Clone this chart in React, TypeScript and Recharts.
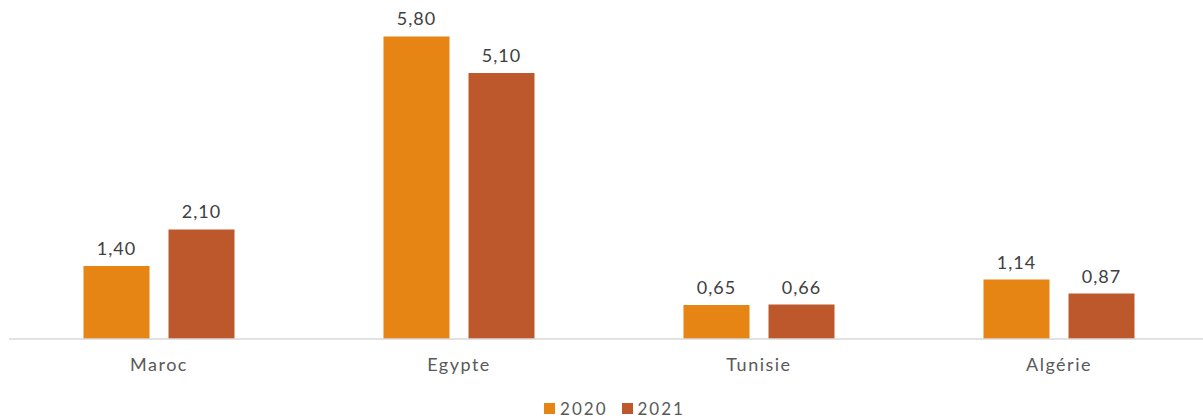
import React from "react";
import { BarChart, Bar, XAxis, YAxis, LabelList, Legend } from "recharts";

const categories = ["Maroc", "Egypte", "Tunisie", "Algérie"];
const values2020 = [1.4, 5.8, 0.65, 1.14];
const values2021 = [2.1, 5.1, 0.66, 0.87];
const seriesNames = ["2020", "2021"];
const colors = ["#E68414", "#BD582C"];

const data = categories.map((c, i) => ({ name: c, s2020: values2020[i], s2021: values2021[i] }));

const fmt = (v: number) => v.toFixed(2).replace(".", ",");
const FONT = "Lato, 'Open Sans', sans-serif";

const LegendContent = () => (
  <div style={{ display: "flex", justifyContent: "center", alignItems: "center", paddingLeft: 26, fontFamily: FONT, fontSize: 17, lineHeight: "20px", height: 23, color: "#595959", letterSpacing: 2 }}>
    {seriesNames.map((n, i) => (
      <span key={n} style={{ display: "inline-flex", alignItems: "center", marginRight: i === 0 ? 14 : 0 }}>
        <span style={{ display: "inline-block", width: 11, height: 11, background: colors[i], marginRight: 5 }} />
        {n}
      </span>
    ))}
  </div>
);

export default function App() {
  return (
    <div style={{ position: "absolute", left: 0, top: 0, width: 1203, height: 420, overflow: "hidden", background: "#fff" }}>
      <BarChart
        width={1218}
        height={420}
        data={data}
        margin={{ top: 26, right: 9, left: 9, bottom: 18 }}
        barCategoryGap={74.5}
        barGap={19}
      >
        <XAxis
          dataKey="name"
          axisLine={{ stroke: "#D9D9D9", strokeWidth: 1.5 }}
          tickLine={false}
          tick={{ fill: "#595959", fontSize: 18, fontFamily: FONT, letterSpacing: 1.5 }}
          tickMargin={13}
          height={40}
        />
        <YAxis hide domain={[0, 6]} />
        <Legend verticalAlign="bottom" content={<LegendContent />} wrapperStyle={{ left: 0, width: 1203, bottom: 0 }} />
        <Bar dataKey="s2020" name="2020" fill={colors[0]} isAnimationActive={false}>
          <LabelList dataKey="s2020" position="top" offset={11} formatter={(v: any) => fmt(Number(v))} style={{ fill: "#404040", fontSize: 18, fontFamily: FONT, letterSpacing: 1 }} />
        </Bar>
        <Bar dataKey="s2021" name="2021" fill={colors[1]} isAnimationActive={false}>
          <LabelList dataKey="s2021" position="top" offset={11} formatter={(v: any) => fmt(Number(v))} style={{ fill: "#404040", fontSize: 18, fontFamily: FONT, letterSpacing: 1 }} />
        </Bar>
      </BarChart>
    </div>
  );
}
